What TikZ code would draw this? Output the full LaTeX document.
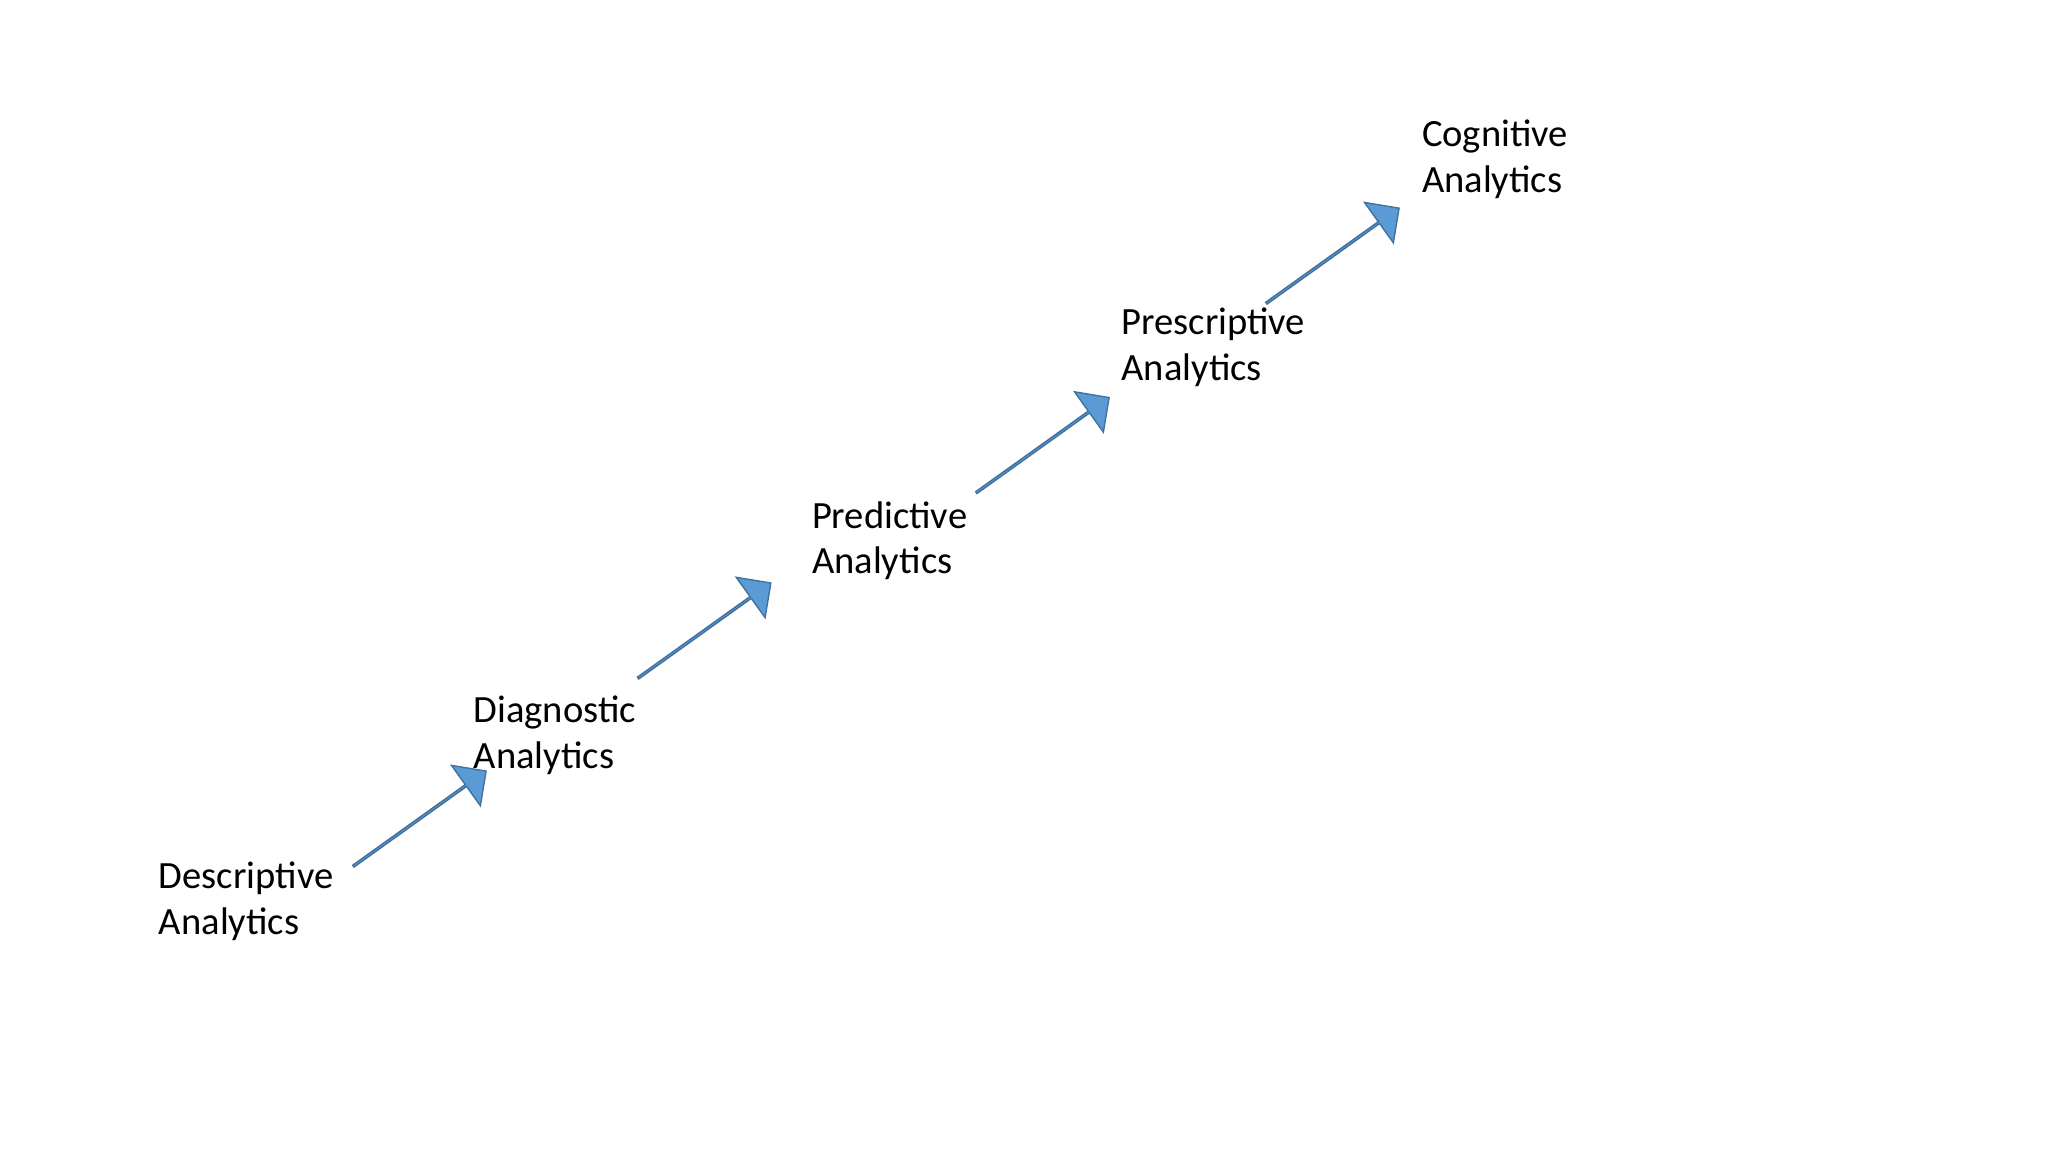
\documentclass[tikz,border=0pt]{standalone}
\usepackage{fontspec}
\setmainfont{Carlito}
\usetikzlibrary{shapes.arrows}
\definecolor{afill}{HTML}{5B9BD5}
\definecolor{aline}{HTML}{41719C}
\tikzset{
  lab/.style={anchor=west,align=left,inner sep=0pt,font=\fontsize{8.4pt}{10pt}\selectfont},
  blk/.style={single arrow,draw=aline,fill=afill,line width=0.3pt,minimum height=1.25cm,minimum width=0.38cm,single arrow head extend=0.11cm,single arrow head indent=0pt,inner sep=0pt,rotate=35.6,shape border rotate=0}
}
\begin{document}
\begin{tikzpicture}
\useasboundingbox (0,0) rectangle (15.68,8.82);
\node[lab] (d1) at (1.21,8.82-6.90) {Descriptive\\Analytics};
\node[lab] (d2) at (3.62,8.82-5.63) {Diagnostic\\Analytics};
\node[lab] (d3) at (6.21,8.82-4.14) {Predictive\\Analytics};
\node[lab] (d4) at (8.58,8.82-2.66) {Prescriptive\\Analytics};
\node[lab] (d5) at (10.88,8.82-1.22) {Cognitive\\Analytics};
\node[blk] (a1) at (3.21,8.82-6.27) {};
\node[blk] (a2) at (5.39,8.82-4.83) {};
\node[blk] (a3) at (7.98,8.82-3.41) {};
\node[blk] (a4) at (10.20,8.82-1.96) {};
\end{tikzpicture}
\end{document}
